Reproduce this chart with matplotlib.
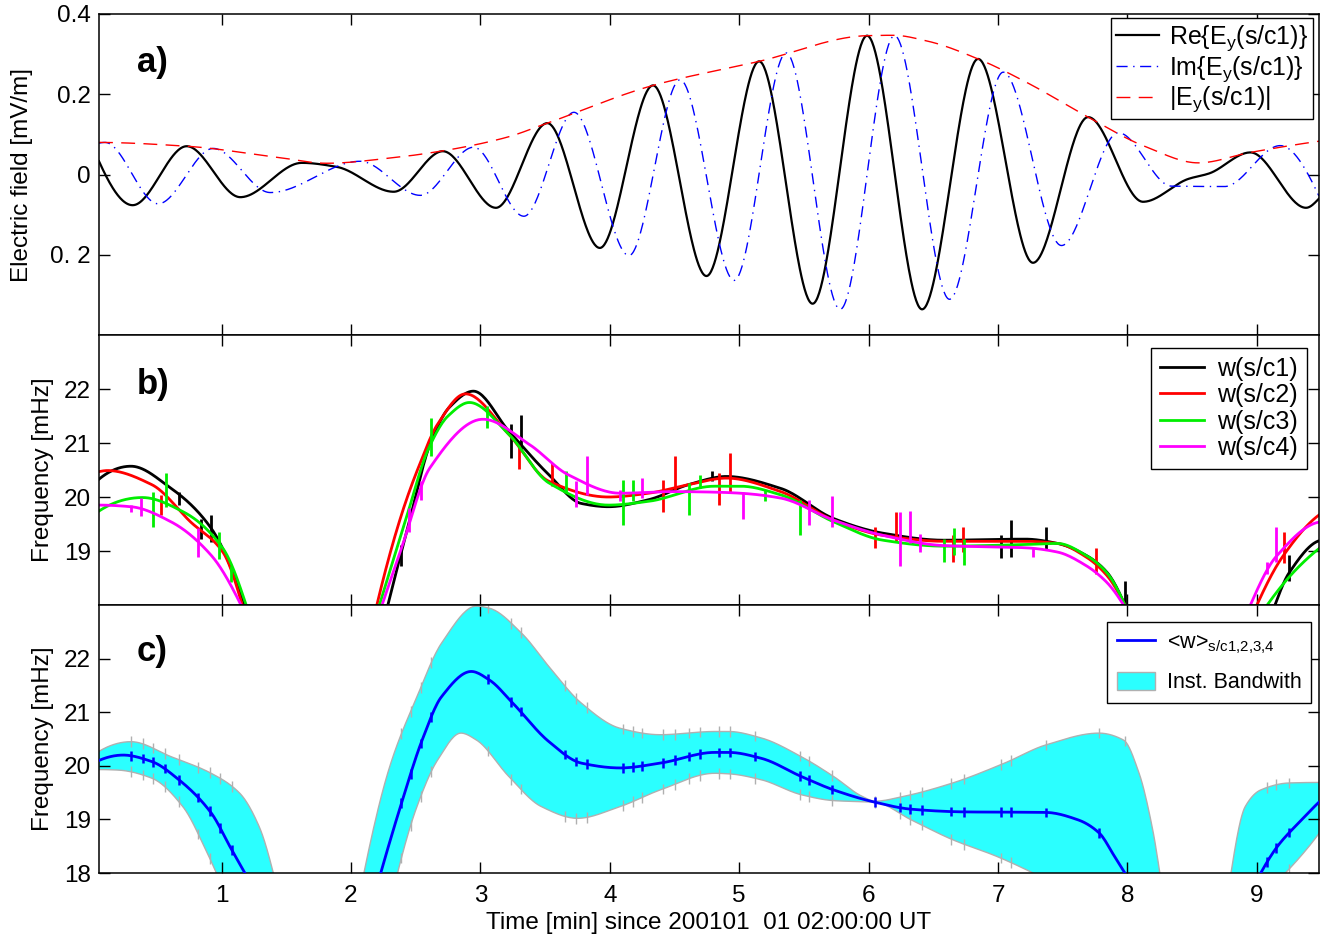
import numpy as np
import matplotlib
matplotlib.use("Agg")
import matplotlib.pyplot as plt
from matplotlib.patches import Patch
from matplotlib.lines import Line2D

plt.rcParams['font.family'] = ['Liberation Sans', 'DejaVu Sans']
plt.rcParams['mathtext.default'] = 'regular'

# ---------------- Panel a data (extrema / key points) -------------
re_t = [0.053, 0.313, 0.731, 1.145, 1.62, 1.89, 2.33, 2.71, 3.12, 3.517, 3.923, 4.334,
        4.747, 5.154, 5.567, 5.988, 6.413, 6.846, 7.27, 7.696, 8.12, 8.47, 8.63, 8.95,
        9.38, 9.48]
re_v = [0.033, -0.0765, 0.0705, -0.0565, 0.029, 0.019, -0.043, 0.058, -0.083, 0.128,
        -0.183, 0.222, -0.253, 0.282, -0.322, 0.346, -0.336, 0.288, -0.22, 0.143,
        -0.068, -0.011, 0.0025, 0.055, -0.083, -0.06]
im_t = [0.053, 0.10, 0.51, 0.936, 1.377, 2.07, 2.536, 2.948, 3.336, 3.723, 4.148, 4.543,
        4.961, 5.363, 5.78, 6.2, 6.625, 7.04, 7.49, 7.93, 8.34, 8.75, 9.18, 9.48]
im_v = [0.078, 0.080, -0.073, 0.065, -0.045, 0.033, -0.052, 0.068, -0.104, 0.155, -0.202,
        0.236, -0.264, 0.303, -0.336, 0.346, -0.311, 0.255, -0.177, 0.104, -0.029, -0.030,
        0.072, -0.054]
abs_t = [0.053, 0.73, 1.45, 1.81, 2.33, 2.71, 3.196, 3.517, 4.334, 5.154, 5.988, 6.19,
         6.46, 6.846, 7.23, 7.696, 8.135, 8.547, 8.95, 9.48]
abs_v = [0.080, 0.0705, 0.042, 0.028, 0.042, 0.059, 0.092, 0.128, 0.222, 0.282, 0.346,
         0.347, 0.332, 0.288, 0.228, 0.143, 0.070, 0.029, 0.055, 0.083]

# ---------------- Panel b data: w(s/c1..4), segments --------------------------------
c1_segs = [
    ([0.053, 0.30, 0.61, 0.92, 1.18], [20.33, 20.57, 20.16, 19.42, 18.0]),
    ([2.285, 2.45, 2.61, 2.76, 2.946, 3.22, 3.53, 3.78, 3.99, 4.30, 4.61, 4.9, 5.32, 5.73,
      6.11, 6.58, 7.21, 7.46, 7.68, 7.84, 7.98],
     [18.0, 19.54, 20.97, 21.66, 21.96, 21.22, 20.41, 19.88, 19.82, 19.95, 20.23, 20.38,
      20.16, 19.6, 19.33, 19.2, 19.22, 19.14, 18.92, 18.61, 18.0]),
    ([9.14, 9.25, 9.5], [18.0, 18.6, 19.2]),
]
c2_segs = [
    ([0.053, 0.12, 0.46, 0.76, 1.01, 1.16], [20.47, 20.49, 20.23, 19.54, 18.98, 18.0]),
    ([2.20, 2.39, 2.52, 2.67, 2.885, 3.22, 3.53, 3.99, 4.30, 4.61, 4.9, 5.32, 5.73, 6.11,
      6.58, 7.21, 7.46, 7.68, 7.84, 7.98],
     [18.0, 19.67, 20.54, 21.35, 21.91, 21.16, 20.29, 20.0, 20.07, 20.23, 20.35, 20.10,
      19.57, 19.29, 19.18, 19.18, 19.14, 18.89, 18.55, 18.0]),
    ([9.0, 9.2, 9.5], [18.0, 18.9, 19.7]),
]
c3_segs = [
    ([0.053, 0.39, 0.70, 1.01, 1.19], [19.74, 19.99, 19.73, 19.05, 18.0]),
    ([2.22, 2.42, 2.6, 2.75, 2.915, 3.22, 3.53, 3.99, 4.30, 4.81, 5.01, 5.32, 5.73, 6.11,
      6.58, 7.21, 7.46, 7.68, 7.84, 7.98],
     [18.0, 19.55, 20.9, 21.5, 21.75, 21.16, 20.26, 19.85, 19.92, 20.2, 20.2, 20.04, 19.54,
      19.2, 19.09, 19.12, 19.14, 18.92, 18.6, 18.0]),
    ([9.08, 9.3, 9.5], [18.0, 18.65, 19.08]),
]
c4_segs = [
    ([0.053, 0.30, 0.61, 0.92, 1.15], [19.85, 19.82, 19.54, 18.92, 18.0]),
    ([2.24, 2.39, 2.61, 3.02, 3.38, 3.68, 4.08, 4.5, 4.81, 5.01, 5.32, 5.73, 6.11, 6.58,
      7.21, 7.46, 7.68, 7.84, 7.97],
     [18.0, 19.05, 20.54, 21.44, 20.97, 20.41, 20.07, 20.1, 20.09, 20.07, 19.98, 19.57,
      19.29, 19.1, 19.06, 18.98, 18.73, 18.42, 18.0]),
    ([8.95, 9.15, 9.5], [18.0, 18.9, 19.54]),
]
# error bars: time, low, high
c1_bars = [(0.67, 19.85, 20.10), (0.84, 19.23, 19.60), (0.92, 19.17, 19.67),
           (2.39, 18.73, 19.11), (3.24, 20.72, 21.35), (3.31, 20.88, 21.51),
           (4.79, 20.29, 20.48), (7.02, 18.87, 19.29), (7.10, 18.89, 19.57),
           (7.37, 19.01, 19.44), (7.98, 18.0, 18.45), (9.25, 18.45, 18.92)]
c2_bars = [(0.53, 19.67, 20.04), (3.30, 20.51, 20.97), (3.55, 20.20, 20.63),
           (4.41, 19.73, 20.32), (4.50, 20.13, 20.76), (4.84, 19.85, 20.44),
           (4.93, 20.10, 20.82), (6.05, 19.05, 19.45), (6.21, 19.17, 19.73),
           (6.65, 18.80, 19.29), (6.73, 18.98, 19.45), (7.76, 18.58, 19.05),
           (9.21, 18.77, 19.36)]
c3_bars = [(0.47, 19.45, 20.10), (0.57, 19.82, 20.44), (0.98, 18.86, 19.36),
           (1.07, 18.42, 18.73), (2.62, 20.76, 21.47), (3.05, 21.28, 21.69),
           (3.66, 20.10, 20.48), (4.10, 19.48, 20.32), (4.18, 19.92, 20.32),
           (4.61, 19.67, 20.26), (4.70, 20.16, 20.41), (5.20, 19.92, 20.13),
           (5.47, 19.29, 19.95), (6.58, 18.80, 19.23), (6.66, 18.92, 19.42),
           (6.74, 18.75, 19.23)]
c4_bars = [(0.30, 19.73, 19.85), (0.38, 19.64, 19.98), (0.82, 18.89, 19.42),
           (2.45, 19.36, 19.79), (2.54, 19.95, 20.29), (3.74, 19.82, 20.29),
           (3.82, 20.04, 20.76), (4.08, 19.92, 20.13), (4.25, 19.98, 20.35),
           (5.03, 19.60, 20.10), (5.54, 19.48, 19.95), (5.72, 19.45, 20.01),
           (6.24, 18.73, 19.73), (6.32, 19.14, 19.74), (6.40, 18.98, 19.31),
           (7.27, 18.89, 19.05), (9.08, 18.58, 18.80), (9.15, 18.80, 19.45)]

# ---------------- Panel c data: mean and instantaneous bandwidth ---------------------
mean_segs = [
    ([0.053, 0.24, 0.46, 0.67, 0.92, 1.07, 1.18], [20.1, 20.2, 20.08, 19.74, 19.12, 18.47, 18.0]),
    ([2.23, 2.39, 2.55, 2.70, 2.93, 3.07, 3.25, 3.53, 3.78, 4.08, 4.39, 4.81, 4.92, 5.17,
      5.48, 5.73, 6.05, 6.33, 6.74, 7.37, 7.62, 7.78, 7.90, 7.98],
     [18.0, 19.3, 20.48, 21.29, 21.76, 21.6, 21.17, 20.45, 20.05, 19.96, 20.05, 20.25,
      20.25, 20.14, 19.8, 19.55, 19.32, 19.19, 19.14, 19.13, 18.99, 18.75, 18.31, 18.0]),
    ([9.03, 9.16, 9.32, 9.5], [18.0, 18.5, 18.93, 19.37]),
]
upper_segs = [
    ([0.053, 0.30, 0.61, 0.92, 1.14, 1.29, 1.40], [20.27, 20.45, 20.17, 19.86, 19.49, 18.87, 18.0]),
    ([2.10, 2.30, 2.51, 2.70, 2.97, 3.07, 3.32, 3.53, 3.78, 4.08, 4.39, 4.81, 4.92, 5.17,
      5.48, 5.73, 5.95, 6.05, 6.27, 6.65, 7.05, 7.37, 7.78, 7.97, 8.09, 8.19, 8.25],
     [18.0, 19.99, 21.29, 22.29, 22.98, 22.94, 22.47, 21.85, 21.17, 20.7, 20.58, 20.64,
      20.64, 20.52, 20.17, 19.8, 19.43, 19.34, 19.43, 19.68, 20.05, 20.39, 20.61, 20.48,
      19.86, 18.87, 18.0]),
    ([8.80, 8.91, 9.03, 9.25, 9.5], [18.0, 19.24, 19.55, 19.68, 19.69]),
]
lower_segs = [
    ([0.053, 0.2, 0.46, 0.70, 0.89, 0.96], [19.93, 19.92, 19.77, 19.24, 18.37, 18.0]),
    ([2.36, 2.51, 2.67, 2.85, 2.97, 3.22, 3.47, 3.75, 4.08, 4.39, 4.81, 4.92, 5.17, 5.48,
      5.73, 6.05, 6.33, 6.65, 6.99, 7.27],
     [18.0, 19.24, 20.11, 20.61, 20.48, 19.8, 19.24, 19.02, 19.24, 19.55, 19.86, 19.85,
      19.74, 19.46, 19.35, 19.32, 18.99, 18.62, 18.31, 18.0]),
    ([9.22, 9.38, 9.5], [18.0, 18.43, 18.8]),
]
tick_times = [0.30, 0.39, 0.47, 0.56, 0.67, 0.82, 0.91, 0.99, 1.08, 2.39, 2.46, 2.54, 2.62,
              3.06, 3.24, 3.31, 3.65, 3.74, 3.82, 4.10, 4.18, 4.25, 4.41, 4.50, 4.61, 4.70,
              4.84, 4.93, 5.12, 5.47, 5.54, 5.72, 6.05, 6.24, 6.32, 6.41, 6.64, 6.74, 7.02,
              7.10, 7.37, 7.78, 7.98, 9.08, 9.15, 9.25]

x_ticks = [1, 2, 3, 4, 5, 6, 7, 8, 9]


def pchip(x, y, xn):
    x = np.asarray(x, float)
    y = np.asarray(y, float)
    h = np.diff(x)
    d = np.diff(y) / h
    n = len(x)
    m = np.zeros(n)
    if n == 2:
        m[:] = d[0]
    else:
        for k in range(1, n - 1):
            if d[k - 1] * d[k] <= 0:
                m[k] = 0.0
            else:
                w1 = 2 * h[k] + h[k - 1]
                w2 = h[k] + 2 * h[k - 1]
                m[k] = (w1 + w2) / (w1 / d[k - 1] + w2 / d[k])

        def end(h0, h1, d0, d1):
            mm = ((2 * h0 + h1) * d0 - h0 * d1) / (h0 + h1)
            if np.sign(mm) != np.sign(d0):
                mm = 0.0
            elif np.sign(d0) != np.sign(d1) and abs(mm) > abs(3 * d0):
                mm = 3 * d0
            return mm
        m[0] = end(h[0], h[1], d[0], d[1])
        m[-1] = end(h[-1], h[-2], d[-1], d[-2])
    xn = np.asarray(xn, float)
    idx = np.clip(np.searchsorted(x, xn) - 1, 0, n - 2)
    t = (xn - x[idx]) / h[idx]
    h00 = 2 * t**3 - 3 * t**2 + 1
    h10 = t**3 - 2 * t**2 + t
    h01 = -2 * t**3 + 3 * t**2
    h11 = t**3 - t**2
    return h00 * y[idx] + h10 * h[idx] * m[idx] + h01 * y[idx + 1] + h11 * h[idx] * m[idx + 1]


def smooth(x, y, n=500):
    xn = np.linspace(x[0], x[-1], n)
    return xn, pchip(x, y, xn)


fig = plt.figure(figsize=(13.35, 9.40), dpi=100)
L, R = 99 / 1335, 1319 / 1335
axa = fig.add_axes([L, 1 - 335 / 940, R - L, 321 / 940])
axb = fig.add_axes([L, 1 - 605 / 940, R - L, 270 / 940])
axc = fig.add_axes([L, 1 - 873 / 940, R - L, 268 / 940])

FS = 17.5
LFS = 18
PL = 25
for ax in (axa, axb, axc):
    ax.set_xlim(0.053, 9.48)
    ax.set_xticks(x_ticks)
    ax.tick_params(direction='in', length=8, width=1, top=True, right=True,
                   labelsize=FS, pad=6)
    ax.tick_params(axis='x', pad=9)
    for s in ax.spines.values():
        s.set_linewidth(1.1)

# ---- panel a
x, y = smooth(re_t, re_v, 1500)
axa.plot(x, y, color='black', lw=1.6, label=r'Re{E$_{y}$(s/c1)}')
x, y = smooth(im_t, im_v, 1500)
axa.plot(x, y, color='blue', lw=1.0, linestyle=(0, (8, 4, 1, 4)), label=r'Im{E$_{y}$(s/c1)}')
x, y = smooth(abs_t, abs_v, 800)
axa.plot(x, y, color='red', lw=1.0, linestyle=(0, (10, 6)), label=r'|E$_{y}$(s/c1)|')
axa.set_ylim(-0.4, 0.4)
axa.set_yticks([-0.2, 0, 0.2, 0.4])
axa.set_yticklabels(['0. 2', '0', '0.2', '0.4'])
axa.set_xticklabels([])
axa.set_ylabel('Electric field [mV/m]', fontsize=FS)
axa.yaxis.set_label_coords(-0.054, 0.5)
axa.text(0.031, 0.85, 'a)', transform=axa.transAxes, fontsize=PL, fontweight='bold',
         va='center', ha='left')
lg = axa.legend(loc='upper right', bbox_to_anchor=(0.995, 0.988), fontsize=LFS,
                frameon=True, fancybox=False, framealpha=1, edgecolor='black',
                borderaxespad=0, handlelength=1.7, handletextpad=0.4, labelspacing=0.05,
                borderpad=0.2)
lg.get_frame().set_linewidth(1.0)

# ---- panel b
colors = ['black', '#ff0000', '#00ee00', '#ff00ff']
segs_all = [c1_segs, c2_segs, c3_segs, c4_segs]
bars_all = [c1_bars, c2_bars, c3_bars, c4_bars]
labels = ['w(s/c1)', 'w(s/c2)', 'w(s/c3)', 'w(s/c4)']
for col, segs, bars, lab in zip(colors, segs_all, bars_all, labels):
    for i, (sx, sy) in enumerate(segs):
        x, y = smooth(sx, sy)
        axb.plot(x, y, color=col, lw=2.0, label=lab if i == 0 else None)
    bt = [b[0] for b in bars]
    blo = [b[1] for b in bars]
    bhi = [b[2] for b in bars]
    axb.vlines(bt, blo, bhi, colors=col, lw=2.0)
axb.set_ylim(18, 23)
axb.set_yticks([19, 20, 21, 22])
axb.set_xticklabels([])
axb.set_ylabel('Frequency [mHz]', fontsize=FS)
axb.yaxis.set_label_coords(-0.037, 0.5)
axb.text(0.031, 0.815, 'b)', transform=axb.transAxes, fontsize=PL, fontweight='bold',
         va='center', ha='left')
lg = axb.legend(loc='upper right', bbox_to_anchor=(0.990, 0.952), fontsize=LFS,
                frameon=True, fancybox=False, framealpha=1, edgecolor='black',
                borderaxespad=0, handlelength=1.75, handletextpad=0.55, labelspacing=0.1,
                borderpad=0.35)
lg.get_frame().set_linewidth(1.0)

# ---- panel c
cyan = '#2bffff'
grey = '#b0b0b0'
for (ux, uy), (lx, ly) in zip(upper_segs, lower_segs):
    xu, yu = smooth(ux, uy)
    xl, yl = smooth(lx, ly)
    px = np.concatenate([xu, xl[::-1]])
    py = np.concatenate([yu, yl[::-1]])
    axc.fill(px, py, color=cyan, lw=0, zorder=1)
    axc.plot(xu, yu, color=grey, lw=1.0, zorder=2)
    axc.plot(xl, yl, color=grey, lw=1.0, zorder=2)
    for tt in tick_times:
        if ux[0] <= tt <= ux[-1]:
            v = pchip(ux, uy, [tt])[0]
            if v > 18.05:
                axc.vlines(tt, v - 0.1, v + 0.1, colors=grey, lw=1.0, zorder=2)
        if lx[0] <= tt <= lx[-1]:
            v = pchip(lx, ly, [tt])[0]
            if v > 18.05:
                axc.vlines(tt, v - 0.1, v + 0.1, colors=grey, lw=1.0, zorder=2)
for i, (mx, my) in enumerate(mean_segs):
    x, y = smooth(mx, my)
    axc.plot(x, y, color='#0000ff', lw=2.0, zorder=3)
    for tt in tick_times:
        if mx[0] <= tt <= mx[-1]:
            v = pchip(mx, my, [tt])[0]
            if v > 18.05:
                axc.vlines(tt, v - 0.09, v + 0.09, colors='#0000ff', lw=1.8, zorder=3)
axc.set_ylim(18, 23)
axc.set_yticks([18, 19, 20, 21, 22])
axc.set_ylabel('Frequency [mHz]', fontsize=FS)
axc.yaxis.set_label_coords(-0.037, 0.5)
axc.set_xlabel('Time [min] since 200101  01 02:00:00 UT', fontsize=FS, labelpad=3)
axc.text(0.031, 0.825, 'c)', transform=axc.transAxes, fontsize=PL, fontweight='bold',
         va='center', ha='left')
handles = [Line2D([], [], color='#0000ff', lw=2.0),
           Patch(facecolor=cyan, edgecolor=grey, lw=1.0)]
lg = axc.legend(handles, [r'<w>$_{s/c1{,}2{,}3{,}4}$', 'Inst. Bandwith'], loc='upper right',
                bbox_to_anchor=(0.9934, 0.9366), fontsize=15.5, frameon=True,
                fancybox=False, framealpha=1, edgecolor='black', borderaxespad=0,
                handlelength=1.75, handleheight=0.9, handletextpad=0.55, labelspacing=0.75,
                borderpad=0.45)
lg.get_frame().set_linewidth(1.0)

fig.savefig('out.png', dpi=100)
